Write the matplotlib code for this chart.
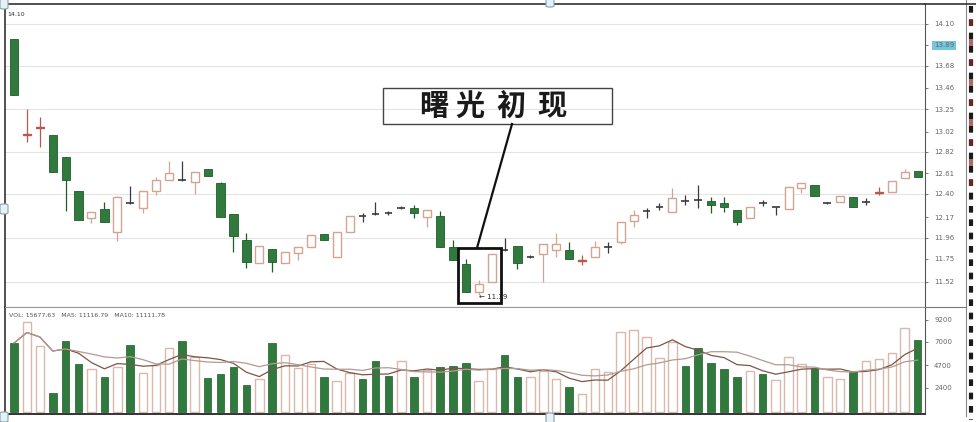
import matplotlib
matplotlib.use("Agg")
import matplotlib.pyplot as plt
import numpy as np
import pandas as pd
from matplotlib.patches import Rectangle, FancyBboxPatch
from matplotlib.lines import Line2D
from matplotlib.transforms import blended_transform_factory

plt.rcParams['font.family'] = ['DejaVu Sans']

# ---- data (prices / volume) ----
opens = [13.95, 12.99, 13.06, 12.99, 12.77, 12.43, 12.16, 12.25, 12.02, 12.31,
         12.26, 12.43, 12.54, 12.54, 12.52, 12.65, 12.51, 12.20, 11.94, 11.71,
         11.85, 11.71, 11.81, 11.87, 12.00, 11.77, 12.02, 12.18, 12.20, 12.21,
         12.26, 12.26, 12.17, 12.18, 11.87, 11.70, 11.42, 11.52, 11.84, 11.88,
         11.77, 11.80, 11.84, 11.84, 11.73, 11.77, 11.87, 11.92, 12.13, 12.23,
         12.27, 12.22, 12.33, 12.34, 12.33, 12.31, 12.24, 12.16, 12.31, 12.27,
         12.25, 12.46, 12.49, 12.31, 12.32, 12.37, 12.32, 12.41, 12.42, 12.56,
         12.63]
closes = [13.39, 13.00, 13.07, 12.62, 12.54, 12.14, 12.22, 12.12, 12.37, 12.31,
          12.43, 12.54, 12.61, 12.54, 12.62, 12.58, 12.17, 11.98, 11.72, 11.88,
          11.72, 11.82, 11.87, 11.99, 11.94, 12.02, 12.18, 12.18, 12.20, 12.21,
          12.26, 12.21, 12.24, 11.87, 11.74, 11.42, 11.50, 11.80, 11.84, 11.71,
          11.77, 11.90, 11.90, 11.75, 11.74, 11.87, 11.87, 12.12, 12.19, 12.23,
          12.27, 12.36, 12.33, 12.34, 12.29, 12.27, 12.12, 12.27, 12.31, 12.27,
          12.47, 12.51, 12.38, 12.31, 12.38, 12.27, 12.32, 12.42, 12.53, 12.62,
          12.57]
highs = [13.95, 13.25, 13.17, 12.99, 12.77, 12.43, 12.22, 12.32, 12.38, 12.48,
         12.43, 12.57, 12.73, 12.73, 12.62, 12.65, 12.52, 12.20, 12.01, 11.88,
         11.85, 11.82, 11.87, 11.99, 12.00, 12.02, 12.18, 12.21, 12.32, 12.23,
         12.28, 12.29, 12.24, 12.23, 11.94, 11.75, 11.54, 11.80, 11.96, 11.88,
         11.79, 11.90, 12.01, 11.92, 11.79, 11.93, 11.92, 12.12, 12.24, 12.26,
         12.31, 12.46, 12.39, 12.49, 12.37, 12.37, 12.24, 12.27, 12.34, 12.27,
         12.47, 12.51, 12.49, 12.32, 12.38, 12.37, 12.36, 12.47, 12.53, 12.65,
         12.63]
lows = [13.39, 12.92, 12.87, 12.62, 12.23, 12.14, 12.11, 12.12, 11.93, 12.30,
        12.21, 12.39, 12.54, 12.53, 12.40, 12.58, 12.17, 11.82, 11.66, 11.71,
        11.62, 11.71, 11.74, 11.87, 11.94, 11.77, 12.02, 12.12, 12.19, 12.19,
        12.25, 12.16, 12.07, 11.87, 11.74, 11.42, 11.39, 11.52, 11.83, 11.65,
        11.76, 11.52, 11.77, 11.75, 11.69, 11.77, 11.81, 11.90, 12.07, 12.16,
        12.24, 12.22, 12.29, 12.26, 12.21, 12.22, 12.09, 12.16, 12.28, 12.19,
        12.25, 12.41, 12.38, 12.30, 12.32, 12.27, 12.29, 12.39, 12.42, 12.56,
        12.57]
volumes = [6900, 9000, 6600, 1900, 7100, 4800, 4300, 3500, 4500, 6700,
           3900, 4700, 6400, 7100, 5500, 3400, 3800, 4500, 2700, 3300,
           6900, 5700, 4400, 4800, 3500, 3100, 3900, 3300, 5100, 3600,
           5100, 3500, 4200, 4500, 4600, 4900, 3100, 4300, 5700, 3500,
           3500, 4100, 3300, 2500, 1800, 4300, 4000, 8000, 8200, 7500,
           5400, 7000, 4600, 6400, 4900, 4300, 3500, 4100, 3800, 3200,
           5500, 4800, 4400, 3500, 3300, 4000, 5100, 5300, 5900, 8400,
           7200]
# G = falling (solid green), H = rising (hollow)
vol_dir = "GHHGGGHGHG" "HHHGHGGGGH" "GHHHGHHGGG" "HGHGGGHHGG" "HHHGHHHHHH" "HHGGGGGHGH" "HHGHHGHHHH" "G"

price_ticks = [14.10, 13.89, 13.68, 13.46, 13.25, 13.02, 12.82, 12.61, 12.40, 12.17, 11.96, 11.75, 11.52]
vol_ticks = [9200, 7000, 4700, 2400]
low_label = "11.39"
title_text = "曙光初现"

GREEN = "#2f7a3c"
GREEN_EDGE = "#1e5c29"
UP_EDGE = "#d2a493"
VOL_UP_EDGE = "#d9b8ad"
DOJI = "#3a3a3a"

W, H = 976, 422
def fx(x):
    return x / W
def fy(y):
    return 1 - y / H

fig = plt.figure(figsize=(9.76, 4.22), dpi=100)
fig.patch.set_facecolor("white")

ax = fig.add_axes([fx(5), fy(307), fx(920), 303 / H])
axv = fig.add_axes([fx(5), fy(414), fx(920), 107 / H])

x = np.arange(len(opens))

# ---- candles ----
for i in x:
    o, c, hi, lo = opens[i], closes[i], highs[i], lows[i]
    if abs(c - o) < 0.005:
        ax.vlines(i, lo, hi, color=DOJI, lw=0.9, zorder=2)
        ax.hlines(o, i - 0.3, i + 0.3, color=DOJI, lw=1.2, zorder=3)
    elif c > o:
        col = "#b8584c" if (c - o) < 0.02 else UP_EDGE
        ax.vlines(i, lo, hi, color=col, lw=0.9, zorder=2)
        ax.bar(i, c - o, bottom=o, width=0.62, color="white", edgecolor=col, lw=1.0, zorder=3)
    else:
        ax.vlines(i, lo, hi, color=GREEN_EDGE, lw=0.9, zorder=2)
        ax.bar(i, c - o, bottom=o, width=0.64, color=GREEN, edgecolor=GREEN_EDGE, lw=0.6, zorder=3)

ax.set_xlim(-0.70, 70.57)
ax.set_ylim(11.27, 14.30)
for t in price_ticks[::2]:
    ax.axhline(t, color="#e4e4e4", lw=0.8, zorder=0)

ax.yaxis.tick_right()
ax.set_yticks(price_ticks)
ax.set_yticklabels([f"{t:.2f}" for t in price_ticks], fontsize=5, color="#666666")
ax.tick_params(axis="y", length=2.5, width=0.6, color="#666666", pad=4)
ax.set_xticks([])
hl = ax.get_yticklabels()[1]
hl.set_bbox(dict(facecolor="#74c6de", edgecolor="none", pad=1.2))
for side in ["left", "top"]:
    ax.spines[side].set_color("#333333")
    ax.spines[side].set_linewidth(1.2)
ax.spines["right"].set_color("#555555")
ax.spines["bottom"].set_color("#777777")
ax.spines["bottom"].set_linewidth(0.8)

# low marker
ax.text(36.05, lows[36] - 0.02, "\u2190 " + low_label, fontsize=5, color="#222222",
        ha="left", va="center", zorder=5)
ax.text(0.003, 0.975, "14.10", transform=ax.transAxes, fontsize=4.5, color="#333333",
        ha="left", va="top")

# ---- volume ----
vol_s = pd.Series(volumes, dtype=float)
ma5 = vol_s.rolling(5, min_periods=1).mean()
ma10 = vol_s.rolling(10, min_periods=1).mean()
for i in x:
    if vol_dir[i] == "G":
        axv.bar(i, volumes[i], width=0.58, color=GREEN, edgecolor=GREEN_EDGE, lw=0.5, zorder=2)
    else:
        axv.bar(i, volumes[i], width=0.66, color="white", edgecolor=VOL_UP_EDGE, lw=1.0, zorder=2)
axv.plot(x, ma5, color="#7d5548", lw=0.9, zorder=3)
axv.plot(x, ma10, color="#b39a92", lw=0.9, zorder=3)
axv.set_xlim(-0.70, 70.57)
axv.set_ylim(-200, 10500)
axv.set_xticks([])
axv.yaxis.tick_right()
axv.set_yticks(vol_ticks)
axv.set_yticklabels([str(v) for v in vol_ticks], fontsize=5, color="#666666")
axv.tick_params(axis="y", length=2.5, width=0.6, color="#666666", pad=4)
axv.spines["left"].set_color("#333333")
axv.spines["left"].set_linewidth(1.2)
axv.spines["bottom"].set_color("#333333")
axv.spines["bottom"].set_linewidth(1.4)
axv.spines["top"].set_color("#999999")
axv.spines["right"].set_color("#555555")
axv.text(0.004, 0.94, "VOL: 15677.63   MA5: 11116.79   MA10: 11111.78", transform=axv.transAxes,
         fontsize=4.5, color="#555555", ha="left", va="top")

# ---- annotation: box with title, pointer line, highlight rectangle ----
fig.add_artist(Rectangle((fx(383), fy(124)), fx(612) - fx(383), fy(88) - fy(124),
                         transform=fig.transFigure, fill=False, edgecolor="#444444", lw=1.0))
for ch, cx in zip(title_text, [434, 470, 511, 552]):
    fig.text(fx(cx), fy(106), ch, fontsize=21, fontweight="bold", color="#1a1a1a",
             family=["Noto Sans CJK SC", "DejaVu Sans"], ha="center", va="center")
fig.add_artist(Line2D([fx(512), fx(477)], [fy(124), fy(248)], transform=fig.transFigure,
                      color="#111111", lw=1.6))
fig.add_artist(Rectangle((fx(458), fy(303)), fx(501) - fx(458), fy(248) - fy(303),
                         transform=fig.transFigure, fill=False, edgecolor="#111111", lw=2.0))

# ---- right-hand panel frame and strip ----
fig.add_artist(Line2D([fx(966), fx(966)], [fy(0), fy(416)], transform=fig.transFigure,
                      color="#888888", lw=0.8))
fig.add_artist(Line2D([fx(925), fx(966)], [fy(307), fy(307)], transform=fig.transFigure,
                      color="#777777", lw=0.8))
fig.add_artist(Line2D([fx(925), fx(976)], [fy(3.5), fy(3.5)], transform=fig.transFigure,
                      color="#333333", lw=1.2))
fig.add_artist(Line2D([fx(971), fx(971)], [fy(6), fy(420)], transform=fig.transFigure,
                      color="#1a1a1a", lw=3.0, linestyle=(0, (1.6, 1.6))))
fig.add_artist(Line2D([fx(971), fx(971)], [fy(6), fy(200)], transform=fig.transFigure,
                      color="#8a2a2a", lw=3.0, linestyle=(1.6, (1.6, 3.2)), alpha=0.7))

# editor selection handles
for hx, hy in [(4, 4), (4, 209), (4, 417), (550, 2), (550, 418)]:
    fig.add_artist(FancyBboxPatch((fx(hx - 4), fy(hy + 5)), fx(8), 10 / H,
                                  boxstyle="round,pad=0,rounding_size=0.003",
                                  transform=fig.transFigure, facecolor="#e4f2f8",
                                  edgecolor="#8aa0aa", lw=0.8))

fig.savefig("out.png", dpi=100)
